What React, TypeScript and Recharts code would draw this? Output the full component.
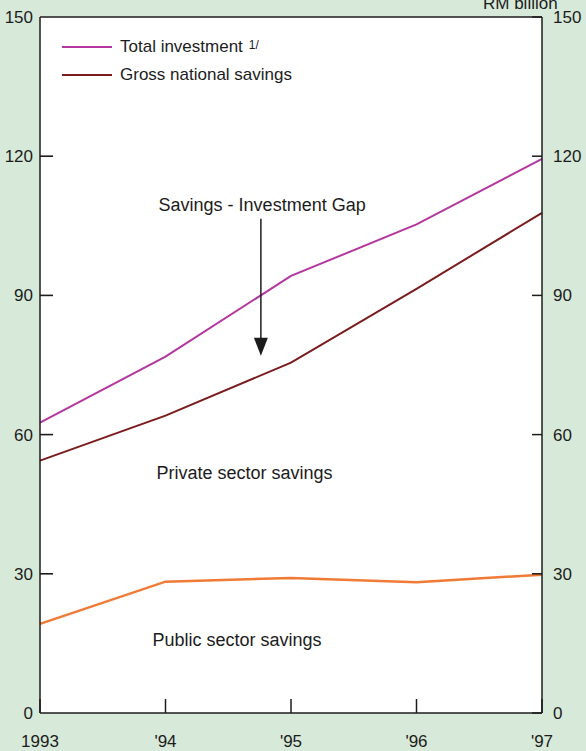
import {
  CartesianGrid,
  Legend,
  Line,
  LineChart,
  ReferenceDot,
  ReferenceLine,
  XAxis,
  YAxis,
} from "recharts";

const years = [1993, 1994, 1995, 1996, 1997];
const yearLabels = ["1993", "'94", "'95", "'96", "'97"];
const totalInvestment = [62.6, 76.8, 94.2, 105.3, 119.4];
const grossNationalSavings = [54.4, 64.1, 75.5, 91.4, 107.8];
const publicSectorSavings = [19.2, 28.3, 29.1, 28.2, 29.8];
const valueTicks = [0, 30, 60, 90, 120, 150];
const innerTicks = [30, 60, 90, 120];
const legendKeys = ["total", "gross"];

const data = years.map((year, i) => ({
  year,
  total: totalInvestment[i],
  gross: grossNationalSavings[i],
  publicSavings: publicSectorSavings[i],
}));

const INK = "#1c1c1c";
const MAGENTA = "#b4369e";
const DARK_RED = "#7a1b1d";
const ORANGE = "#f07a36";
const PAPER = "#d7e9d8";

// arrow from the "Savings - Investment Gap" note down towards the gap
const GapArrow = (p: any) => {
  const { x1, y1, x2, y2 } = p;
  return (
    <g>
      <line x1={x1} y1={y1} x2={x2} y2={y2 - 14} stroke={INK} strokeWidth={1.5} />
      <polygon
        points={`${x2 - 7},${y2 - 18} ${x2 + 7},${y2 - 18} ${x2},${y2}`}
        fill={INK}
      />
    </g>
  );
};

// short tick pointing from the left axis into the plot
const InwardTick = (p: any) => {
  const { x1, y1 } = p;
  return <line x1={x1} y1={y1} x2={x1 + 13} y2={y1} stroke={INK} strokeWidth={1.6} />;
};

const LegendBox = ({ payload }: any) => {
  const items = legendKeys
    .map((k) => (payload || []).find((e: any) => e.dataKey === k))
    .filter(Boolean);
  return (
    <div style={{ fontSize: 17, color: INK }}>
      {items.map((entry: any) => (
        <div
          key={entry.value}
          style={{ display: "flex", alignItems: "center", height: 28 }}
        >
          <span
            style={{
              display: "inline-block",
              width: 50,
              height: 2,
              background: entry.color,
              marginRight: 8,
            }}
          />
          <span>{entry.value}</span>
          {entry.dataKey === "total" && (
            <sup style={{ fontSize: 12, marginLeft: 6, position: "relative", top: -2 }}>
              1/
            </sup>
          )}
        </div>
      ))}
    </div>
  );
};

const labelStyle = { fill: INK, fontSize: 18 };

export default function App() {
  return (
    <div
      style={{
        position: "absolute",
        left: 0,
        top: 0,
        width: 586,
        height: 751,
        overflow: "hidden",
        background: PAPER,
        fontFamily: '"Liberation Sans", Arial, sans-serif',
      }}
    >
      <div
        style={{
          position: "absolute",
          top: -5,
          left: 483,
          fontSize: 17,
          lineHeight: "17px",
          color: INK,
        }}
      >
        RM billion
      </div>
      <LineChart
        width={586}
        height={751}
        data={data}
        margin={{ top: 17, right: 0, bottom: 0, left: 0 }}
      >
        <CartesianGrid fill="#ffffff" horizontal={false} vertical={false} />
        <XAxis
          type="number"
          dataKey="year"
          domain={[1993, 1997]}
          ticks={years}
          height={38}
          tickFormatter={(v: number) => yearLabels[years.indexOf(v)]}
          tick={{ fill: INK, fontSize: 17 }}
          axisLine={{ stroke: INK, strokeWidth: 1.5 }}
          tickLine={{ stroke: INK, strokeWidth: 1.5 }}
          tickSize={-14}
          tickMargin={36}
        />
        <YAxis
          domain={[0, 150]}
          ticks={valueTicks}
          width={40}
          tick={{ fill: INK, fontSize: 17 }}
          axisLine={{ stroke: INK, strokeWidth: 1.5 }}
          tickLine={false}
          tickSize={0}
          tickMargin={7}
        />
        <YAxis
          yAxisId="r"
          orientation="right"
          domain={[0, 150]}
          ticks={valueTicks}
          width={44}
          tick={{ fill: INK, fontSize: 17 }}
          axisLine={{ stroke: INK, strokeWidth: 1.5 }}
          tickLine={{ stroke: INK, strokeWidth: 1.5 }}
          tickSize={-10}
          tickMargin={21}
        />
        <ReferenceLine y={150} stroke={INK} strokeWidth={1.5} />
        {innerTicks.map((v) => (
          <ReferenceLine
            key={v}
            segment={[
              { x: 1993, y: v },
              { x: 1993.1, y: v },
            ]}
            shape={InwardTick}
          />
        ))}
        <Legend
          layout="vertical"
          align="center"
          verticalAlign="middle"
          wrapperStyle={{ top: 33, left: 62, width: 300 }}
          content={<LegendBox />}
        />
        <Line
          dataKey="total"
          name="Total investment"
          stroke={MAGENTA}
          strokeWidth={2}
          dot={false}
          isAnimationActive={false}
        />
        <Line
          dataKey="gross"
          name="Gross national savings"
          stroke={DARK_RED}
          strokeWidth={2}
          dot={false}
          isAnimationActive={false}
        />
        {/* same 0-150 scale as the left axis */}
        <Line
          yAxisId="r"
          dataKey="publicSavings"
          name="Public sector savings"
          stroke={ORANGE}
          strokeWidth={2.5}
          dot={false}
          isAnimationActive={false}
        />
        <ReferenceLine
          segment={[
            { x: 1994.76, y: 106.5 },
            { x: 1994.76, y: 77 },
          ]}
          shape={GapArrow}
        />
        <ReferenceDot
          x={1994.77}
          y={109.5}
          r={0}
          fill="none"
          stroke="none"
          label={{ value: "Savings - Investment Gap", position: "center", ...labelStyle }}
        />
        <ReferenceDot
          x={1994.63}
          y={51.8}
          r={0}
          fill="none"
          stroke="none"
          label={{ value: "Private sector savings", position: "center", ...labelStyle }}
        />
        <ReferenceDot
          x={1994.57}
          y={15.9}
          r={0}
          fill="none"
          stroke="none"
          label={{ value: "Public sector savings", position: "center", ...labelStyle }}
        />
      </LineChart>
    </div>
  );
}
